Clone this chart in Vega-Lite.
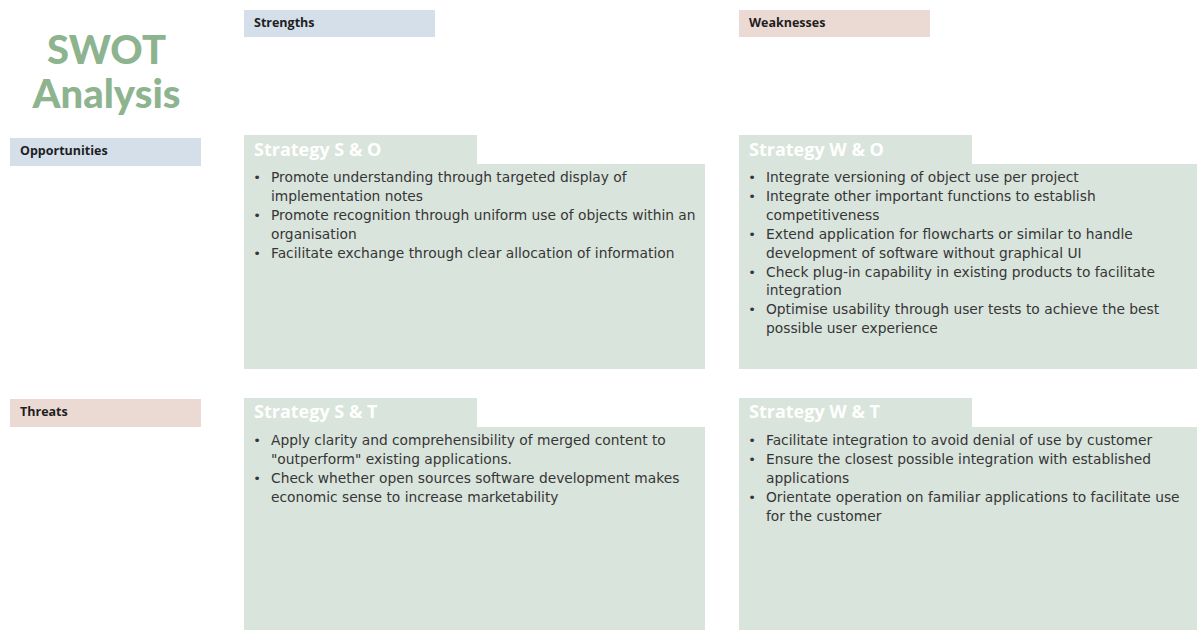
{
  "$schema": "https://vega.github.io/schema/vega-lite/v6.json",
  "width": 1197,
  "height": 630,
  "padding": 0,
  "autosize": {"type": "none"},
  "background": "#ffffff",
  "config": {
    "view": {"stroke": null},
    "axis": {"disable": true},
    "legend": {"disable": true},
    "text": {"font": "Open Sans"}
  },
  "datasets": {
    "title": [
      {"column": "label", "word": "SWOT"},
      {"column": "label", "word": "Analysis"}
    ],
    "internal": [
      {"factor": "Strengths", "col": "S", "scope": "Internal"},
      {"factor": "Weaknesses", "col": "W", "scope": "Internal"}
    ],
    "external": [
      {"factor": "Opportunities", "row": "O", "scope": "External"},
      {"factor": "Threats", "row": "T", "scope": "External"}
    ],
    "strategies": [
      {"strategy": "Strategy S & O", "col": "S", "row": "O"},
      {"strategy": "Strategy W & O", "col": "W", "row": "O"},
      {"strategy": "Strategy S & T", "col": "S", "row": "T"},
      {"strategy": "Strategy W & T", "col": "W", "row": "T"}
    ],
    "lines": [
      {"col": "S", "row": "O", "line": 0, "marker": "•", "text": "Promote understanding through targeted display of"},
      {"col": "S", "row": "O", "line": 1, "marker": "", "text": "implementation notes"},
      {"col": "S", "row": "O", "line": 2, "marker": "•", "text": "Promote recognition through uniform use of objects within an"},
      {"col": "S", "row": "O", "line": 3, "marker": "", "text": "organisation"},
      {"col": "S", "row": "O", "line": 4, "marker": "•", "text": "Facilitate exchange through clear allocation of information"},
      {"col": "W", "row": "O", "line": 0, "marker": "•", "text": "Integrate versioning of object use per project"},
      {"col": "W", "row": "O", "line": 1, "marker": "•", "text": "Integrate other important functions to establish"},
      {"col": "W", "row": "O", "line": 2, "marker": "", "text": "competitiveness"},
      {"col": "W", "row": "O", "line": 3, "marker": "•", "text": "Extend application for flowcharts or similar to handle"},
      {"col": "W", "row": "O", "line": 4, "marker": "", "text": "development of software  without graphical UI"},
      {"col": "W", "row": "O", "line": 5, "marker": "•", "text": "Check plug-in capability in existing products to facilitate"},
      {"col": "W", "row": "O", "line": 6, "marker": "", "text": "integration"},
      {"col": "W", "row": "O", "line": 7, "marker": "•", "text": "Optimise usability through user tests to achieve the best"},
      {"col": "W", "row": "O", "line": 8, "marker": "", "text": "possible user experience"},
      {"col": "S", "row": "T", "line": 0, "marker": "•", "text": "Apply clarity and comprehensibility of merged content to"},
      {"col": "S", "row": "T", "line": 1, "marker": "", "text": "\"outperform\" existing applications."},
      {"col": "S", "row": "T", "line": 2, "marker": "•", "text": "Check whether open sources software development makes"},
      {"col": "S", "row": "T", "line": 3, "marker": "", "text": "economic sense to increase marketability"},
      {"col": "W", "row": "T", "line": 0, "marker": "•", "text": "Facilitate integration to avoid denial of use by customer"},
      {"col": "W", "row": "T", "line": 1, "marker": "•", "text": "Ensure the closest possible integration with established"},
      {"col": "W", "row": "T", "line": 2, "marker": "", "text": "applications"},
      {"col": "W", "row": "T", "line": 3, "marker": "•", "text": "Orientate operation on familiar applications to facilitate use"},
      {"col": "W", "row": "T", "line": 4, "marker": "", "text": "for the customer"}
    ]
  },
  "resolve": {"scale": {"x": "independent", "y": "independent", "color": "independent", "yOffset": "independent"}},
  "layer": [
    {
      "data": {"name": "title"},
      "mark": {"type": "text", "fontSize": 40, "fontWeight": 900, "color": "#8db48f", "align": "center", "baseline": "middle", "font": "Lato"},
      "encoding": {
        "x": {"field": "column", "type": "nominal", "scale": {"type": "band", "domain": ["label"], "range": [11, 202], "paddingInner": 0, "paddingOuter": 0}},
        "y": {"field": "word", "type": "nominal", "scale": {"type": "point", "domain": ["SWOT", "Analysis"], "range": [52, 96], "padding": 0}},
        "text": {"field": "word"}
      }
    },
    {
      "data": {"name": "internal"},
      "encoding": {
        "x": {"field": "col", "type": "nominal", "scale": {"type": "band", "domain": ["S", "W"], "range": [244, 930], "paddingInner": 0.614, "paddingOuter": 0}},
        "y": {"field": "scope", "type": "nominal", "scale": {"type": "band", "domain": ["Internal"], "range": [10, 37], "paddingInner": 0, "paddingOuter": 0}}
      },
      "layer": [
        {
          "mark": {"type": "rect"},
          "encoding": {
            "color": {"field": "factor", "type": "nominal", "scale": {"domain": ["Strengths", "Weaknesses"], "range": ["#d5dfea", "#ebdad3"]}}
          }
        },
        {
          "mark": {"type": "text", "fontSize": 12.5, "fontWeight": "bold", "color": "#1e1e1e", "align": "left", "baseline": "middle", "dx": 10, "dy": -1},
          "encoding": {
            "x": {"field": "col", "type": "nominal", "bandPosition": 0},
            "text": {"field": "factor"}
          }
        }
      ]
    },
    {
      "data": {"name": "external"},
      "encoding": {
        "x": {"field": "scope", "type": "nominal", "scale": {"type": "band", "domain": ["External"], "range": [10, 201], "paddingInner": 0, "paddingOuter": 0}},
        "y": {"field": "row", "type": "nominal", "scale": {"type": "band", "domain": ["O", "T"], "range": [138, 427], "paddingInner": 0.893, "paddingOuter": 0}}
      },
      "layer": [
        {
          "mark": {"type": "rect"},
          "encoding": {
            "color": {"field": "factor", "type": "nominal", "scale": {"domain": ["Opportunities", "Threats"], "range": ["#d5dfea", "#ebdad3"]}}
          }
        },
        {
          "mark": {"type": "text", "fontSize": 12.5, "fontWeight": "bold", "color": "#1e1e1e", "align": "left", "baseline": "middle", "dx": 10, "dy": -1},
          "encoding": {
            "x": {"field": "scope", "type": "nominal", "bandPosition": 0},
            "text": {"field": "factor"}
          }
        }
      ]
    },
    {
      "data": {"name": "strategies"},
      "mark": {"type": "rect", "color": "#d9e4dc"},
      "encoding": {
        "x": {"field": "col", "type": "nominal", "scale": {"type": "band", "domain": ["S", "W"], "range": [244, 1200], "paddingInner": 0.0687, "paddingOuter": 0}},
        "y": {"field": "row", "type": "nominal", "scale": {"type": "band", "domain": ["O", "T"], "range": [164, 632], "paddingInner": 0.2205, "paddingOuter": 0}}
      }
    },
    {
      "data": {"name": "strategies"},
      "encoding": {
        "x": {"field": "col", "type": "nominal", "scale": {"type": "band", "domain": ["S", "W"], "range": [244, 972], "paddingInner": 0.5293, "paddingOuter": 0}},
        "y": {"field": "row", "type": "nominal", "scale": {"type": "band", "domain": ["O", "T"], "range": [135, 427], "paddingInner": 0.8897, "paddingOuter": 0}}
      },
      "layer": [
        {"mark": {"type": "rect", "color": "#d9e4dc"}},
        {
          "mark": {"type": "text", "fontSize": 18, "fontWeight": "bold", "color": "#ffffff", "align": "left", "baseline": "middle", "dx": 10, "dy": 1},
          "encoding": {
            "x": {"field": "col", "type": "nominal", "bandPosition": 0},
            "text": {"field": "strategy"}
          }
        }
      ]
    },
    {
      "data": {"name": "lines"},
      "encoding": {
        "x": {"field": "col", "type": "nominal", "scale": {"type": "point", "domain": ["S", "W"], "range": [271, 766], "padding": 0}},
        "y": {"field": "row", "type": "nominal", "scale": {"type": "point", "domain": ["O", "T"], "range": [178, 441], "padding": 0}},
        "yOffset": {"field": "line", "type": "quantitative", "scale": {"domain": [0, 1], "range": [0, 18.9], "zero": false}}
      },
      "layer": [
        {
          "mark": {"type": "text", "fontSize": 13.8, "color": "#363636", "align": "left", "baseline": "middle", "font": "DejaVu Sans"},
          "encoding": {"text": {"field": "text"}}
        },
        {
          "mark": {"type": "text", "fontSize": 13, "color": "#363636", "align": "center", "baseline": "middle", "dx": -14, "font": "DejaVu Sans"},
          "encoding": {"text": {"field": "marker"}}
        }
      ]
    }
  ]
}
